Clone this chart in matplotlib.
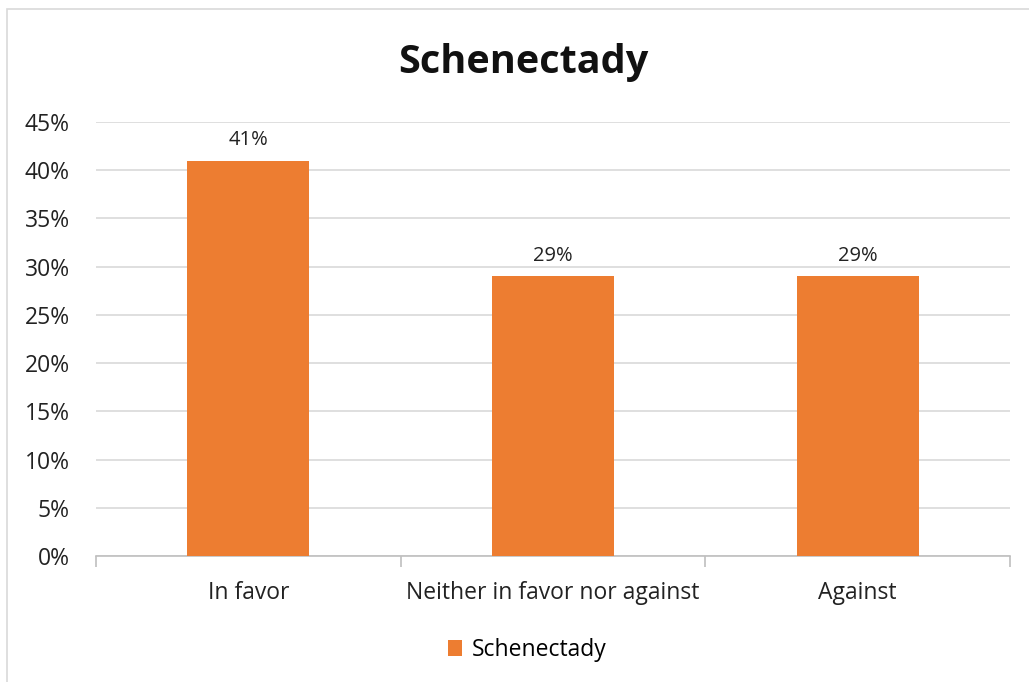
import matplotlib.pyplot as plt
from matplotlib.patches import Rectangle

categories = ["In favor", "Neither in favor nor against", "Against"]
values = [0.41, 0.29, 0.29]
series_name = "Schenectady"
yticks = [0, 0.05, 0.10, 0.15, 0.20, 0.25, 0.30, 0.35, 0.40, 0.45]

plt.rcParams['font.family'] = ['Open Sans', 'DejaVu Sans']

W, H = 1029, 682
fig = plt.figure(figsize=(W / 100, H / 100), dpi=100)

# chart border (runs off the right/bottom of the picture)
fig.patches.append(Rectangle((7 / W, -0.1), 1.1, 1.1 - 9 / H, transform=fig.transFigure,
                             fill=False, edgecolor='#D9D9D9', lw=1.2))

ax = fig.add_axes([96 / W, 1 - 556 / H, (1010 - 96) / W, (556 - 122) / H])

x = list(range(len(categories)))
bars = ax.bar(x, values, width=0.4, color='#ED7D31', label=series_name, zorder=3)
for xi, v in zip(x, values):
    ax.text(xi, v + 0.011, f"{v:.0%}", ha='center', va='bottom', fontsize=14.5, color='#222222')

ax.set_xlim(-0.5, len(categories) - 0.5)
ax.set_ylim(0, 0.45)
ax.set_yticks(yticks)
ax.set_yticklabels([f"{t:.0%}" for t in yticks])
ax.yaxis.grid(True, color='#D9D9D9', lw=1.2, zorder=0)
ax.tick_params(axis='y', length=0, pad=19, labelsize=16.5, labelcolor='#222222')

ax.set_xticks(x)
ax.set_xticklabels(categories)
ax.set_xticks([-0.5, 0.5, 1.5, 2.5], minor=True)
ax.tick_params(axis='x', which='major', length=0, pad=18, labelsize=16.5, labelcolor='#222222')
ax.tick_params(axis='x', which='minor', length=8, color='#BFBFBF', width=1.2)

for s in ['top', 'right', 'left']:
    ax.spines[s].set_visible(False)
ax.spines['bottom'].set_color('#BFBFBF')
ax.spines['bottom'].set_linewidth(1.2)

fig.text(523 / W, 1 - 62 / H, "Schenectady", ha='center', va='center',
         fontsize=28.5, fontweight='bold', color='#111111')

fig.legend(handles=[bars], labels=[series_name], loc='center', bbox_to_anchor=(527 / W, 1 - 650 / H),
           frameon=False, fontsize=16.5, handlelength=0.65, handleheight=0.65, handletextpad=0.4)

fig.savefig("out.png", dpi=100)
